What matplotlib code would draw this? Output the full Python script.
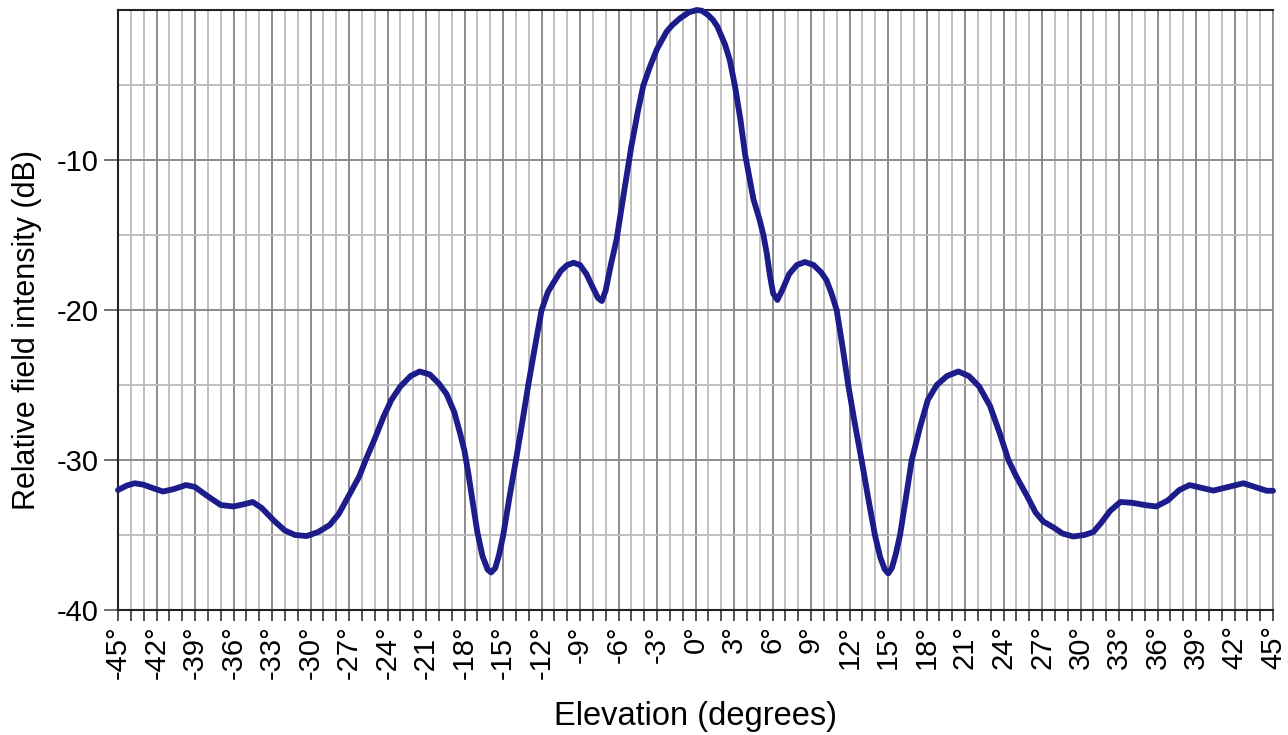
import numpy as np
import matplotlib
matplotlib.use('Agg')
import matplotlib.pyplot as plt
from matplotlib.ticker import MultipleLocator, FixedLocator

plt.rcParams['font.family'] = ['Liberation Sans', 'DejaVu Sans']

# elevation (deg) and relative field intensity (dB)
elev = [-45.0, -44.3, -43.7, -43.0, -42.2, -41.5, -40.7, -39.7, -39.0, -38.2,
        -37.0, -36.0, -35.2, -34.5, -33.8, -32.9, -32.0, -31.2, -30.3, -29.4,
        -28.5, -27.8, -26.9, -26.2, -25.7, -25.0, -24.3, -23.7, -23.0, -22.2,
        -21.5, -20.7, -20.0, -19.4, -18.8, -18.35, -18.0, -17.7, -17.4, -17.0,
        -16.6, -16.2, -15.93, -15.6, -15.3, -14.98, -14.5, -13.99, -13.5, -13.03,
        -12.5, -11.99, -11.5, -11.08, -10.5, -10.0, -9.5, -9.0, -8.5, -8.0,
        -7.6, -7.3, -7.0, -6.6, -6.15, -5.6, -5.0, -4.5, -4.07, -3.55,
        -3.0, -2.25, -1.8, -1.2, -0.5, 0.1, 0.5, 1.0, 1.37, 1.7,
        2.0, 2.3, 2.67, 3.06, 3.5, 3.86, 4.51, 5.0, 5.29, 5.55,
        5.8, 6.05, 6.38, 6.8, 7.3, 7.9, 8.53, 9.2, 9.8, 10.2,
        10.6, 11.0, 11.45, 11.9, 12.4, 12.94, 13.45, 13.98, 14.4, 14.75,
        15.02, 15.3, 15.6, 15.94, 16.4, 16.85, 17.5, 18.1, 18.8, 19.6,
        20.48, 21.3, 22.1, 22.95, 23.7, 24.38, 25.0, 25.9, 26.5, 27.1,
        27.9, 28.6, 29.44, 30.3, 31.0, 31.6, 32.3, 33.1, 34.0, 35.0,
        35.9, 36.8, 37.7, 38.5, 39.4, 40.35, 41.5, 42.7, 43.6, 44.5,
        45.0]
field_db = [-32.0, -31.7, -31.55, -31.65, -31.9, -32.1, -31.95, -31.67, -31.8, -32.3,
            -33.0, -33.1, -32.95, -32.8, -33.2, -34.0, -34.7, -35.0, -35.07, -34.8,
            -34.33, -33.6, -32.2, -31.1, -30.0, -28.6, -27.1, -26.0, -25.1, -24.4,
            -24.1, -24.3, -24.9, -25.6, -26.8, -28.2, -29.4, -30.9, -32.6, -34.8,
            -36.4, -37.3, -37.5, -37.2, -36.3, -35.0, -32.5, -30.0, -27.5, -25.0,
            -22.4, -20.0, -18.8, -18.2, -17.4, -17.0, -16.85, -17.0, -17.6, -18.5,
            -19.2, -19.4, -18.7, -17.0, -15.3, -12.3, -9.1, -6.8, -5.04, -3.78,
            -2.6, -1.44, -1.0, -0.55, -0.15, 0.0, -0.05, -0.35, -0.67, -1.1,
            -1.7, -2.3, -3.33, -5.0, -7.3, -9.6, -12.6, -14.0, -15.0, -16.2,
            -17.7, -18.9, -19.33, -18.6, -17.6, -17.0, -16.8, -17.0, -17.5, -18.0,
            -18.9, -20.0, -22.4, -25.0, -27.5, -30.0, -32.5, -35.0, -36.5, -37.3,
            -37.56, -37.2, -36.3, -35.0, -32.5, -30.0, -27.8, -26.0, -25.0, -24.4,
            -24.1, -24.4, -25.1, -26.4, -28.2, -30.0, -31.1, -32.5, -33.5, -34.1,
            -34.5, -34.9, -35.1, -35.0, -34.8, -34.2, -33.4, -32.8, -32.85, -33.0,
            -33.1, -32.7, -32.0, -31.67, -31.85, -32.04, -31.8, -31.55, -31.8, -32.05,
            -32.05]

x_ticks = list(range(-45, 46, 3))
x_labels = [f'{t}°' for t in x_ticks]
y_ticks = [-40, -30, -20, -10]

fig = plt.figure(figsize=(12.88, 7.35), dpi=100)
ax = fig.add_axes([118 / 1288, 1 - 610 / 735, 1155 / 1288, 600 / 735])

ax.set_xlim(-45, 45)
ax.set_ylim(-40, 0)

ax.set_xticks(x_ticks)
ax.set_xticklabels(x_labels, rotation=90, fontsize=21)
ax.xaxis.set_minor_locator(MultipleLocator(1))
ax.set_yticks(y_ticks)
ax.set_yticklabels([str(t) for t in y_ticks], fontsize=21)
ax.yaxis.set_minor_locator(FixedLocator([-35, -25, -15, -5]))

ax.tick_params(axis='x', which='both', direction='out', length=8, width=1.2,
               color='#333333', pad=3)
ax.tick_params(axis='y', which='major', direction='out', length=10, width=1.2,
               color='#555555', pad=4)
ax.tick_params(axis='y', which='minor', length=0)

ax.grid(which='major', color='#8c8c8c', linewidth=1.4)
ax.grid(which='minor', color='#c0c0c0', linewidth=1.4)
ax.set_axisbelow(True)

for side in ['left', 'bottom', 'top']:
    ax.spines[side].set_color('#222222')
    ax.spines[side].set_linewidth(1.5)
ax.spines['right'].set_color('#8c8c8c')
ax.spines['right'].set_linewidth(1.2)

ax.plot(elev, field_db, color='#1c1c8a', linewidth=4.2, solid_capstyle='round',
        solid_joinstyle='round', zorder=3, clip_on=False)

ax.set_xlabel('Elevation (degrees)', fontsize=23.5, labelpad=16)
ax.set_ylabel('Relative field intensity (dB)', fontsize=22)
ax.yaxis.set_label_coords(-0.066, 0.467)

fig.savefig('out.png', dpi=100)
